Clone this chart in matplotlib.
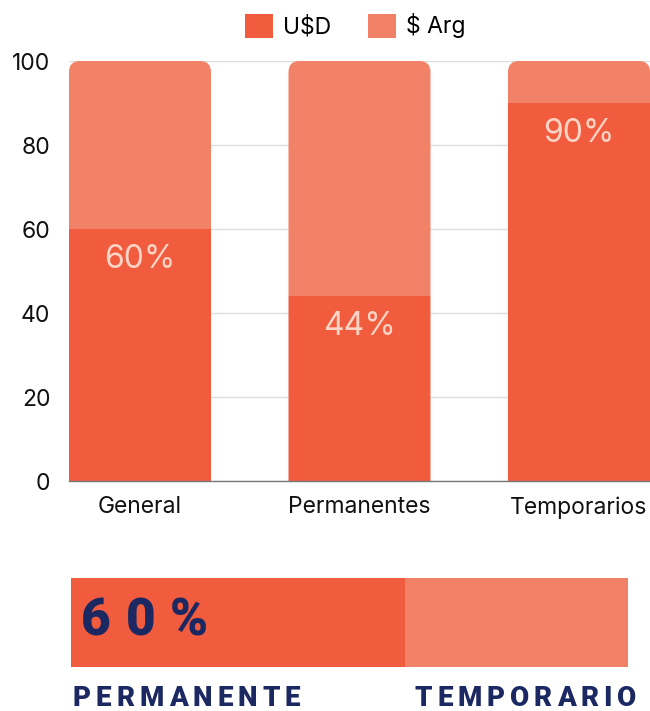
import matplotlib
matplotlib.use("Agg")
import matplotlib.pyplot as plt
from matplotlib.patches import FancyBboxPatch, Patch
from matplotlib.transforms import IdentityTransform

# Share of salaries paid in dollars by contract type
categories = ["General", "Permanentes", "Temporarios"]
usd_share = [60, 44, 90]
ars_share = [100 - v for v in usd_share]
series_names = ["U$D", "$ Arg"]
y_ticks = [0, 20, 40, 60, 80, 100]

# Summary strip
summary_value = 60
summary_labels = ["PERMANENTE", "TEMPORARIO"]

C_USD = "#F15C3E"
C_ARS = "#F28267"
C_LABEL = "#FDD5C6"
C_NAVY = "#1B2861"

W, H, DPI = 650, 711, 100
fig = plt.figure(figsize=(W / DPI, H / DPI), dpi=DPI)
plt.rcParams["font.family"] = ["Inter", "DejaVu Sans"]


def fx(px):
    return px / W


def fy(px):
    return 1 - px / H


ax = fig.add_axes([fx(69), fy(481), fx(650) - fx(69), fy(61) - fy(481)])
x = range(len(categories))
bw = 0.647
b1 = ax.bar(x, usd_share, width=bw, color=C_USD, zorder=2)
b2 = ax.bar(x, ars_share, width=bw, bottom=usd_share, color=C_ARS, zorder=2)
ax.set_xlim(-bw / 2, len(categories) - 1 + bw / 2)
ax.set_ylim(0, 100)
ax.set_yticks(y_ticks)
ax.set_xticks(list(x))
ax.set_xticklabels(categories)
ax.tick_params(axis="both", length=0, labelsize=16.5, labelcolor="#111111")
ax.tick_params(axis="y", pad=13.5)
ax.tick_params(axis="x", pad=11)
for s in ["top", "right", "left"]:
    ax.spines[s].set_visible(False)
ax.spines["bottom"].set_color("#777777")
ax.spines["bottom"].set_linewidth(1)
ax.spines["bottom"].set_zorder(3)
ax.grid(axis="y", color="#DDDDDD", linewidth=1, zorder=0)
ax.set_axisbelow(True)

# Rounded top corners: clip each stacked column to a rounded box in pixel space
for r1, r2 in zip(b1, b2):
    x0, y0 = ax.transData.transform((r1.get_x(), 0))
    x1, y1 = ax.transData.transform((r1.get_x() + r1.get_width(), 100))
    clip = FancyBboxPatch((x0, y0 - 20), x1 - x0, (y1 - y0) + 20,
                          boxstyle="round,pad=0,rounding_size=11",
                          transform=IdentityTransform())
    r1.set_clip_path(clip)
    r2.set_clip_path(clip)

# Value labels inside the dollar segment
for xi, v in zip(x, usd_share):
    ax.text(xi, v - 7.2, f"{v}%", ha="center", va="center",
            color=C_LABEL, fontsize=23, fontweight="normal", zorder=4)

# Legend
handles = [Patch(facecolor=C_USD, edgecolor="none"),
           Patch(facecolor=C_ARS, edgecolor="none")]
fig.legend(handles, series_names, loc="center", bbox_to_anchor=(fx(355), fy(26)),
           ncol=2, frameon=False, fontsize=16.5, handlelength=1.22, handleheight=1.22,
           handletextpad=0.45, columnspacing=1.6)

# Summary strip
ax2 = fig.add_axes([fx(71), fy(667), fx(628) - fx(71), fy(578) - fy(667)])
ax2.barh([0], [summary_value], height=1, color=C_USD)
ax2.barh([0], [100 - summary_value], left=[summary_value], height=1, color=C_ARS)
ax2.set_xlim(0, 100)
ax2.set_ylim(-0.5, 0.5)
ax2.axis("off")

renderer = fig.canvas.get_renderer()
heavy = dict(family=["Roboto", "DejaVu Sans"], weight="black", color=C_NAVY)


def spaced_text(s, left_px, right_px, y_px, size):
    # Measure glyph widths, then spread the letters to fill the span
    widths = []
    for ch in s:
        t = fig.text(0, 0, ch, fontsize=size, **heavy)
        widths.append(t.get_window_extent(renderer).width)
        t.remove()
    gap = (right_px - left_px - sum(widths)) / (len(s) - 1)
    cur = left_px
    for ch, w in zip(s, widths):
        fig.text(fx(cur), fy(y_px), ch, fontsize=size, ha="left", va="center", **heavy)
        cur += w + gap


spaced_text(f"{summary_value}%", 81, 208, 622, 37)
spaced_text(summary_labels[0], 73, 300, 698, 20)
spaced_text(summary_labels[1], 415, 636, 698, 20)

fig.savefig("out.png", dpi=DPI)
